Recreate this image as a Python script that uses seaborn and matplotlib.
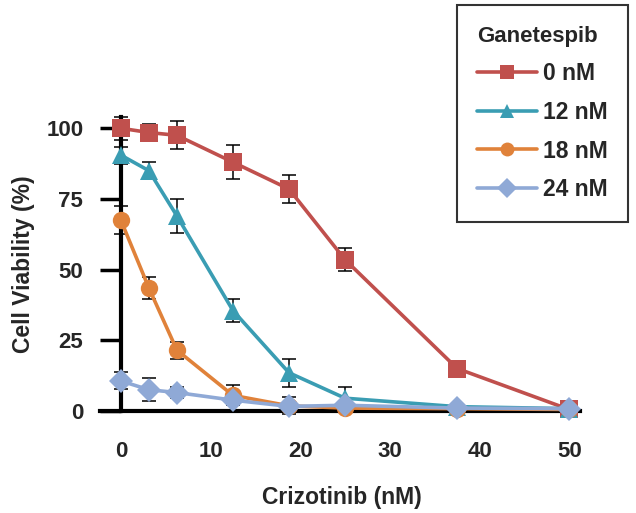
import numpy as np
import pandas as pd
import seaborn as sns
import matplotlib.pyplot as plt

# data
crizotinib = [0, 3.125, 6.25, 12.5, 18.75, 25, 37.5, 50]
doses = ["0 nM", "12 nM", "18 nM", "24 nM"]
via_0 = [100, 98.5, 97.5, 88, 78.5, 53.5, 15, 0.5]
via_12 = [90.5, 85, 69, 35.5, 13.5, 4.5, 1.5, 0.8]
via_18 = [67.5, 43.5, 21.5, 5.5, 1.8, 1.0, 0.8, 0.5]
via_24 = [10.6, 7.5, 6.5, 3.8, 1.6, 2.0, 1.0, 0.8]
err_0 = [4, 3, 5, 6, 5, 4, 2, 0.5]
err_12 = [3, 3, 6, 4, 5, 4, 0.5, 0.5]
err_18 = [5, 4, 3, 3.5, 3, 0.5, 0.5, 0.5]
err_24 = [3, 4, 2, 1, 0.5, 0.5, 0.5, 0.5]

colors = ["#C0504D", "#3A9DB3", "#E0823A", "#8FA9D6"]
marks = ["s", "^", "o", "D"]

vals = [via_0, via_12, via_18, via_24]
errs = [err_0, err_12, err_18, err_24]
df = pd.DataFrame({
    "Crizotinib": crizotinib * 4,
    "Viability": sum(vals, []),
    "Ganetespib": [d for d in doses for _ in crizotinib],
})

sns.set_style("white")
plt.rcParams["font.family"] = ["Liberation Sans", "DejaVu Sans"]
plt.rcParams["font.weight"] = "bold"

fig = plt.figure(figsize=(6.36, 5.13), dpi=100)
ax = fig.add_axes([0.157, 0.199, 0.755, 0.573])

for i in range(4):
    ax.errorbar(crizotinib, vals[i], yerr=errs[i], fmt="none", ecolor="black",
                elinewidth=1.1, capsize=5, capthick=1.1, zorder=2, clip_on=False)

sns.lineplot(data=df, x="Crizotinib", y="Viability", hue="Ganetespib", style="Ganetespib",
             palette=colors, markers=marks, dashes=False, linewidth=2.6, markersize=12.5,
             markeredgewidth=0, ax=ax, zorder=3, clip_on=False)

ax.set_xlim(-2.34, 51.2)
ax.set_ylim(0, 104)
ax.spines["left"].set_position(("data", 0))
ax.spines["right"].set_visible(False)
ax.spines["top"].set_visible(False)
for s in ["left", "bottom"]:
    ax.spines[s].set_linewidth(3)
    ax.spines[s].set_color("black")

ax.set_yticks([0, 25, 50, 75, 100])
ax.set_xticks([0, 10, 20, 30, 40, 50])
ax.tick_params(axis="y", left=True, direction="out", length=15, width=2.5, pad=12,
               labelsize=16, color="black")
ax.tick_params(axis="x", bottom=True, length=0, pad=22, labelsize=16)
for lab in ax.get_xticklabels() + ax.get_yticklabels():
    lab.set_fontweight("bold")

ax.set_xlabel("Crizotinib (nM)", fontsize=16.5, fontweight="bold")
ax.set_ylabel("Cell Viability (%)", fontsize=16.5, fontweight="bold")
ax.yaxis.set_label_coords(-0.135, 0.5)
ax.xaxis.set_label_coords(0.503, -0.255)

handles, labels = ax.get_legend_handles_labels()
leg = fig.legend(handles, labels, title="Ganetespib", loc="upper left",
                 bbox_to_anchor=(0.718, 0.99), frameon=True, fancybox=False,
                 prop={"weight": "bold", "size": 16.5},
                 title_fontproperties={"weight": "bold", "size": 16},
                 handlelength=2.6, handletextpad=0.25, labelspacing=0.68, borderpad=0.9,
                 borderaxespad=0, markerscale=0.8)
leg._legend_box.align = "left"
leg.get_frame().set_edgecolor("black")
leg.get_frame().set_linewidth(1.5)
if ax.get_legend():
    ax.get_legend().remove()

fig.savefig("out.png", dpi=100)
